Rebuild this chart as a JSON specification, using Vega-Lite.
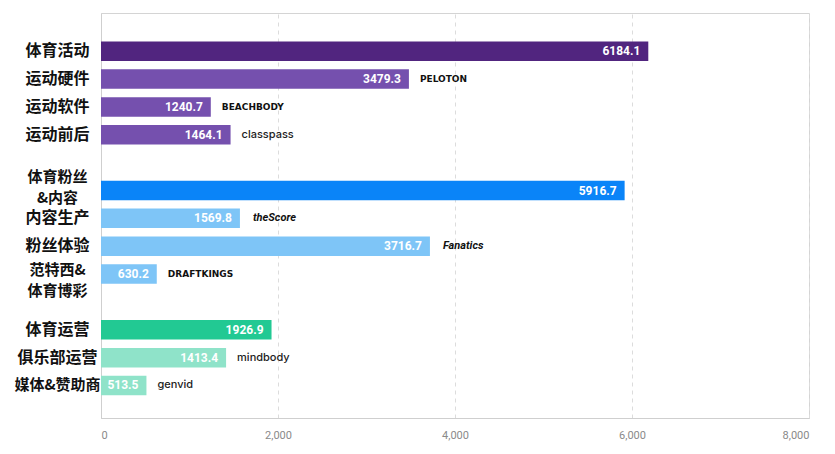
{
  "$schema": "https://vega.github.io/schema/vega-lite/v6.json",
  "width": 708,
  "height": 405,
  "autosize": "none",
  "padding": {"left": 101, "top": 13, "right": 26, "bottom": 36},
  "background": "white",
  "data": {
    "values": [
      {"label": "体育活动", "value": 6184.1, "logo": ""},
      {"label": "运动硬件", "value": 3479.3, "logo": "PELOTON"},
      {"label": "运动软件", "value": 1240.7, "logo": "BEACHBODY"},
      {"label": "运动前后", "value": 1464.1, "logo": "classpass"},
      {"label": "体育粉丝&内容", "value": 5916.7, "logo": ""},
      {"label": "内容生产", "value": 1569.8, "logo": "theScore"},
      {"label": "粉丝体验", "value": 3716.7, "logo": "Fanatics"},
      {"label": "范特西&体育博彩", "value": 630.2, "logo": "DRAFTKINGS"},
      {"label": "体育运营", "value": 1926.9, "logo": ""},
      {"label": "俱乐部运营", "value": 1413.4, "logo": "mindbody"},
      {"label": "媒体&赞助商", "value": 513.5, "logo": "genvid"}
    ]
  },
  "encoding": {
    "y": {
      "field": "label",
      "type": "nominal",
      "title": null,
      "scale": {
        "domain": ["体育活动", "运动硬件", "运动软件", "运动前后", "gap1", "体育粉丝&内容", "内容生产", "粉丝体验", "范特西&体育博彩", "gap2", "体育运营", "俱乐部运营", "媒体&赞助商"],
        "paddingInner": 0.3,
        "paddingOuter": 0.92,
        "align": 0.556
      },
      "axis": {
        "ticks": false,
        "domainColor": "#cfcfcf",
        "labelAlign": "center",
        "labelPadding": 44,
        "labelFont": "Noto Sans CJK SC",
        "labelFontSize": {
          "condition": {"test": "datum.value == '媒体&赞助商' || datum.value == '体育粉丝&内容' || datum.value == '范特西&体育博彩'", "value": 15},
          "value": 16
        },
        "labelOffset": {
          "condition": [
            {"test": "datum.value == '体育粉丝&内容'", "value": -14},
            {"test": "datum.value == '范特西&体育博彩'", "value": -4}
          ],
          "value": 0
        },
        "labelFontWeight": "bold",
        "labelColor": "#111111",
        "labelLineHeight": 21,
        "labelExpr": "datum.value == 'gap1' || datum.value == 'gap2' ? '' : datum.value == '体育粉丝&内容' ? ['体育粉丝', '&内容'] : datum.value == '范特西&体育博彩' ? ['范特西&', '体育博彩'] : datum.value"
      }
    },
    "x": {
      "field": "value",
      "type": "quantitative",
      "title": null,
      "scale": {"domain": [0, 8000], "nice": false},
      "axis": {
        "values": [0, 2000, 4000, 6000, 8000],
        "format": ",.0f",
        "ticks": false,
        "domainColor": "#cfcfcf",
        "gridColor": "#dcdcdc",
        "gridDash": [4, 4],
        "labelColor": "#8a8a8a",
        "labelFont": "Roboto",
        "labelFontSize": 11,
        "labelPadding": 11
      }
    }
  },
  "layer": [
    {
      "mark": {"type": "bar"},
      "encoding": {
        "color": {
          "field": "label",
          "type": "nominal",
          "legend": null,
          "scale": {
            "domain": ["体育活动", "运动硬件", "运动软件", "运动前后", "体育粉丝&内容", "内容生产", "粉丝体验", "范特西&体育博彩", "体育运营", "俱乐部运营", "媒体&赞助商"],
            "range": ["#51257f", "#7550ae", "#7550ae", "#7550ae", "#0a84f8", "#7ec5f7", "#7ec5f7", "#7ec5f7", "#22c993", "#8fe3c9", "#8fe3c9"]
          }
        }
      }
    },
    {
      "mark": {"type": "text", "align": "right", "baseline": "middle", "dx": -8, "color": "white", "font": "Roboto", "fontWeight": "bold", "fontSize": 12},
      "encoding": {"text": {"field": "value", "type": "quantitative", "format": ".1f"}}
    },
    {
      "transform": [{"filter": "datum.logo == 'PELOTON' || datum.logo == 'BEACHBODY' || datum.logo == 'DRAFTKINGS'"}],
      "mark": {"type": "text", "align": "left", "baseline": "middle", "dx": 11, "color": "#111111", "font": "DejaVu Sans", "fontWeight": "bold", "fontSize": 9},
      "encoding": {"text": {"field": "logo", "type": "nominal"}}
    },
    {
      "transform": [{"filter": "datum.logo == 'classpass' || datum.logo == 'mindbody' || datum.logo == 'genvid'"}],
      "mark": {"type": "text", "align": "left", "baseline": "middle", "dx": 11, "color": "#222222", "font": "Inter", "fontWeight": 500, "fontSize": 11},
      "encoding": {"text": {"field": "logo", "type": "nominal"}}
    },
    {
      "transform": [{"filter": "datum.logo == 'theScore' || datum.logo == 'Fanatics'"}],
      "mark": {"type": "text", "align": "left", "baseline": "middle", "dx": 13, "color": "#111111", "font": "Roboto", "fontWeight": "bold", "fontStyle": "italic", "fontSize": 11},
      "encoding": {"text": {"field": "logo", "type": "nominal"}}
    }
  ],
  "config": {
    "view": {"stroke": "#d4d4d4"}
  }
}
